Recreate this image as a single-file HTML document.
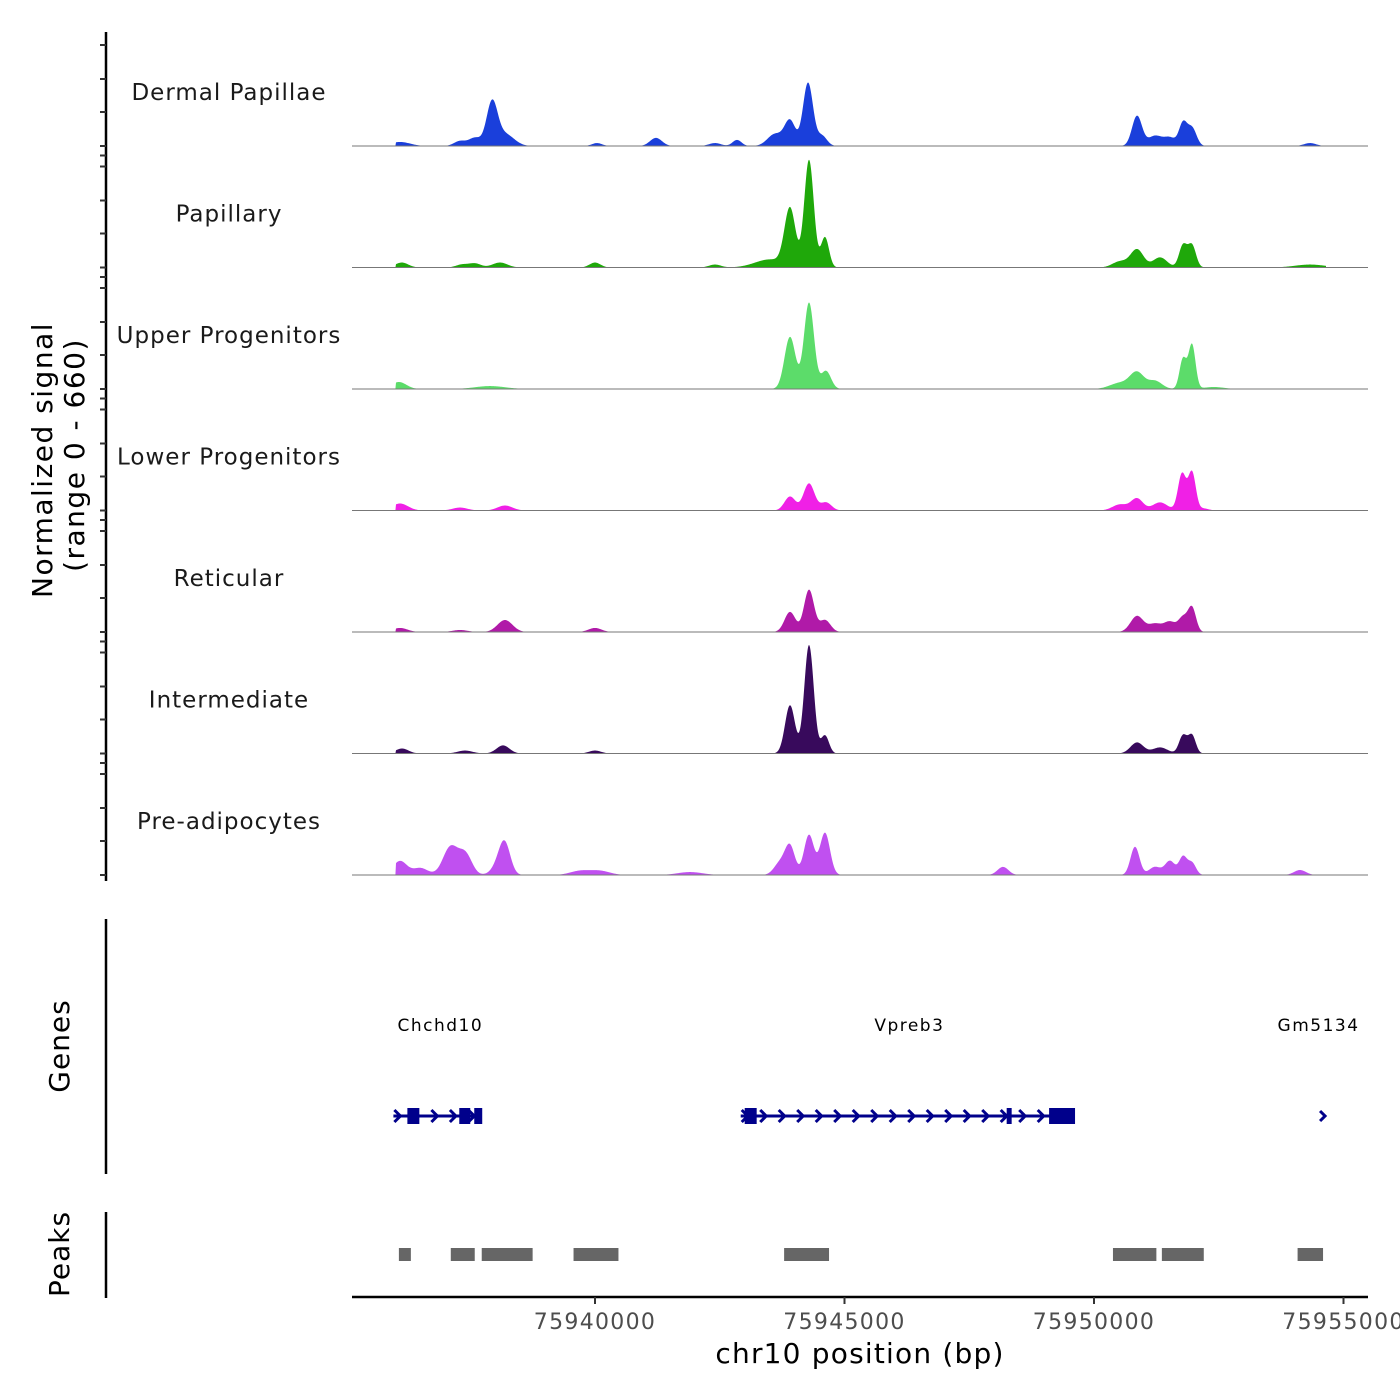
<!DOCTYPE html>
<html><head><meta charset="utf-8"><style>
html,body{margin:0;padding:0;background:#fff;}
svg{display:block;font-family:"DejaVu Sans","Liberation Sans",sans-serif;}
</style></head><body>
<svg id="chart" width="1400" height="1400" viewBox="0 0 1400 1400" xmlns="http://www.w3.org/2000/svg">
<g id="tracks"></g>
<g id="leftaxis"></g>
<text transform="translate(52,460) rotate(-90)" text-anchor="middle" font-size="28" letter-spacing="1.5" fill="#000">Normalized signal</text>
<text transform="translate(84,455) rotate(-90)" text-anchor="middle" font-size="28" letter-spacing="1.5" fill="#000">(range 0 - 660)</text>
<g id="genes"></g>
<line x1="106" y1="919" x2="106" y2="1174" stroke="#000" stroke-width="2.5"/>
<text transform="translate(69,1046) rotate(-90)" text-anchor="middle" font-size="28" letter-spacing="1">Genes</text>
<g id="peaks"></g>
<line x1="106" y1="1212" x2="106" y2="1298" stroke="#000" stroke-width="2.5"/>
<text transform="translate(69,1254) rotate(-90)" text-anchor="middle" font-size="28" letter-spacing="1">Peaks</text>
<g id="xaxis"></g>
<text x="860" y="1363" text-anchor="middle" font-size="28" letter-spacing="1.2">chr10 position (bp)</text>
</svg>
<script>
const trackNames = ["Dermal Papillae","Papillary","Upper Progenitors","Lower Progenitors","Reticular","Intermediate","Pre-adipocytes"];
const trackColors = ["#1a3fdb","#1fa80a","#5cdc6a","#f020e6","#b01aa8","#380a5c","#c050f0"];
const yMax = 660;
// peaks per track: [position bp, signal value, sigma bp]
const sigDermal = [[75936092,22,200],[75937295,27,120],[75937595,44,120],[75937936,229,110],[75938196,65,180],[75940040,16,100],[75941222,44,120],[75942405,16,120],[75942846,33,90],[75943607,65,150],[75943908,136,110],[75944269,343,100],[75944549,55,100],[75950862,163,100],[75951222,55,140],[75951523,44,120],[75951784,120,80],[75951964,98,90],[75954329,16,120]];
const sigPapillary = [[75936128,27,130],[75937335,16,120],[75937595,22,120],[75938096,27,150],[75940000,27,110],[75942405,16,120],[75943507,44,300],[75943908,311,110],[75944289,583,95],[75944609,164,80],[75950521,33,150],[75950862,98,130],[75951323,55,140],[75951784,120,80],[75951964,120,80],[75954329,16,300]];
const sigUpper = [[75936070,38,150],[75937895,16,300],[75943908,283,110],[75944289,469,100],[75944629,98,100],[75950521,33,200],[75950862,87,140],[75951222,44,140],[75951784,164,70],[75951964,240,70],[75952400,11,200]];
const sigLower = [[75936092,38,160],[75937295,16,150],[75938196,27,150],[75943908,76,110],[75944289,147,110],[75944629,44,110],[75950521,33,150],[75950862,65,120],[75951323,44,150],[75951764,200,80],[75951964,207,75],[75952200,11,100]];
const sigReticular = [[75936092,22,150],[75937295,11,150],[75938196,65,150],[75940000,22,130],[75943908,109,110],[75944289,229,100],[75944609,65,110],[75950862,87,130],[75951222,44,130],[75951523,55,120],[75951784,76,90],[75951964,131,80]];
const sigIntermediate = [[75936132,27,130],[75937395,16,150],[75938156,44,130],[75940000,16,120],[75943908,262,100],[75944289,589,95],[75944609,98,80],[75950862,60,130],[75951323,33,150],[75951784,98,80],[75951964,98,75]];
const sigPreadipocytes = [[75936092,76,140],[75936500,38,150],[75937106,153,150],[75937406,109,130],[75938096,65,140],[75938196,136,110],[75939699,22,200],[75940100,22,200],[75941904,16,250],[75943707,65,120],[75943908,153,100],[75944289,218,100],[75944609,229,100],[75948176,44,110],[75950822,153,90],[75951222,44,120],[75951523,76,100],[75951784,98,80],[75951964,65,80],[75954128,27,120]];
const trackSignals = [sigDermal,sigPapillary,sigUpper,sigLower,sigReticular,sigIntermediate,sigPreadipocytes];
const dataStart = 75936000, dataEnd = 75954650;
const xTicks = [75940000,75945000,75950000,75955000];
const geneNames = ["Chchd10","Vpreb3","Gm5134"];
const geneStarts = [75935960,75942920,75954530];
const geneEnds = [75937720,75949600,75954570];
const geneLabelPos = [75936900,75946300,75954500];
// exons [start,end]
const geneExons = [[[75936240,75936480],[75937280,75937500],[75937580,75937740]],[[75943000,75943240],[75948250,75948350],[75949100,75949620]],[]];
const peakStarts = [75936070,75937110,75937730,75939570,75943790,75950380,75951360,75954080];
const peakEnds = [75936310,75937590,75938750,75940470,75944690,75951250,75952200,75954590];

const NS="http://www.w3.org/2000/svg";
function mk(tag,attrs,parent){const e=document.createElementNS(NS,tag);for(const k in attrs)e.setAttribute(k,attrs[k]);parent.appendChild(e);return e;}
const xScale = bp => 595 + (bp-75940000)*0.0499;
const trackH = 121.5, firstBase = 146;
const yScale = (v,i) => (firstBase+i*trackH) - v/yMax*trackH;

const tg=document.getElementById('tracks');
trackNames.forEach((name,i)=>{
  const base = firstBase+i*trackH;
  const sig = trackSignals[i];
  let d = `M${xScale(dataStart)},${base}`;
  for(let px=Math.ceil(xScale(dataStart)); px<=xScale(dataEnd); px+=0.5){
    const bp = 75940000+(px-595)/0.0499;
    let v=0; sig.forEach(p=>{const z=(bp-p[0])/p[2]; v+=p[1]*Math.exp(-0.5*z*z);});
    v=Math.min(v,yMax);
    d+=` L${px},${yScale(v,i).toFixed(2)}`;
  }
  d+=` L${xScale(dataEnd)},${base} Z`;
  const area=mk('path',{d:d,fill:trackColors[i]},tg);
  
  
  const bl=mk('line',{x1:352,x2:1368,y1:base,y2:base,stroke:'#777','stroke-width':1},tg);
  
  
  const lb=mk('text',{x:229,y:base-46,'text-anchor':'middle','font-size':23,'letter-spacing':1,fill:'#1a1a1a'},tg);
  lb.textContent=name;
  
  
});
const la=document.getElementById('leftaxis');
mk('line',{x1:106,y1:32,x2:106,y2:881,stroke:'#000','stroke-width':2.5},la);
for(let i=0;i<7;i++){
  const base=firstBase+i*trackH;
  [0,34,67,101,112].forEach(o=>{
    const y=base-o; if(y<38)return;
    const t=mk('line',{x1:100,x2:106,y1:y,y2:y,stroke:'#333','stroke-width':2},la);
    
    
  });
}
const gg=document.getElementById('genes');
const gy=1116, gc='#00008b';
geneNames.forEach((g,i)=>{
  const x1=xScale(geneStarts[i]), x2=xScale(geneEnds[i]);
  const lbl=mk('text',{x:xScale(geneLabelPos[i]),y:1031,'text-anchor':'middle','font-size':17,'letter-spacing':1.5,fill:'#000'},gg);
  lbl.textContent=g;
  
  
  if(x2-x1>5){
    mk('line',{x1:x1,x2:x2,y1:gy,y2:gy,stroke:gc,'stroke-width':3},gg);
    for(let x=x1+1;x<x2-6;x+=18.5){
      mk('path',{d:`M${x},${gy-6} L${x+6},${gy} L${x},${gy+6}`,fill:'none',stroke:gc,'stroke-width':3},gg);
    }
  } else {
    mk('path',{d:`M${x1},${gy-5} L${x1+5},${gy} L${x1},${gy+5}`,fill:'none',stroke:gc,'stroke-width':3},gg);
  }
  geneExons[i].forEach(e=>{
    const r=mk('rect',{x:xScale(e[0]),y:gy-8,width:xScale(e[1])-xScale(e[0]),height:16,fill:gc},gg);
    
    
  });
});
const pg=document.getElementById('peaks');
peakStarts.forEach((s,i)=>{
  const r=mk('rect',{x:xScale(s),y:1248,width:xScale(peakEnds[i])-xScale(s),height:13,fill:'#666'},pg);
  
  
});
const xa=document.getElementById('xaxis');
mk('line',{x1:352,x2:1368,y1:1297,y2:1297,stroke:'#000','stroke-width':2.5},xa);
xTicks.forEach(t=>{
  const x=xScale(t);
  mk('line',{x1:x,x2:x,y1:1297,y2:1304,stroke:'#333','stroke-width':2},xa);
  const tl=mk('text',{x:x,y:1329,'text-anchor':'middle','font-size':22,'letter-spacing':1.3,fill:'#4d4d4d'},xa);
  tl.textContent=t;
  
  
});
</script>
</body></html>
